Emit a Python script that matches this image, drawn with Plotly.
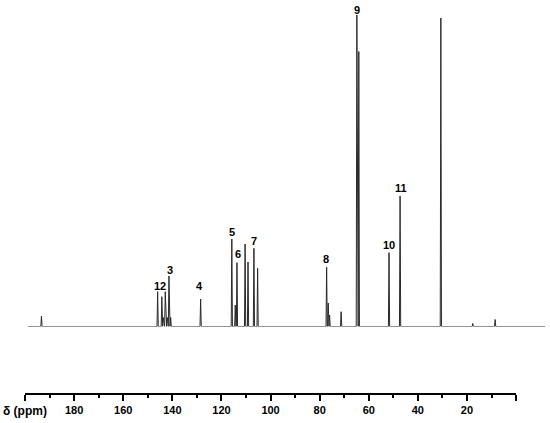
import plotly.graph_objects as go

# Peak positions (ppm, on the drawn axis scale) and intensities (arbitrary units)
peak_ppm = [193.3, 146.0, 144.3, 143.7, 142.9, 142.1, 141.4, 140.7, 128.5,
            115.8, 114.4, 113.7, 110.4, 109.2, 106.8, 105.3,
            77.2, 76.55, 76.0, 71.3, 64.9, 64.1, 51.8, 47.3, 30.7, 17.7, 8.6]
peak_int = [10.5, 34.8, 29.8, 9.0, 34.8, 9.0, 50.5, 9.0, 27.5,
            87.5, 21.5, 63.8, 82.5, 64.5, 78.2, 58.2,
            59.2, 23.5, 11.5, 14.8, 311.5, 275.0, 73.8, 130.5, 308.5, 3.0, 7.0]

spec_start = 198.8
spec_end = -11.7

# Peak labels
label_text = ["1", "2", "3", "4", "5", "6", "7", "8", "9", "10", "11"]
label_ppm = [146.4, 143.9, 141.0, 129.0, 115.6, 113.2, 106.8, 77.6, 64.8, 51.8, 47.0]
label_int = [40.5, 40.5, 56.5, 40.5, 94.8, 72.5, 85.8, 67.5, 316.5, 81.5, 138.5]

# Axis ticks
major_ticks = [200, 180, 160, 140, 120, 100, 80, 60, 40, 20, 0]
major_text = ["", "180", "160", "140", "120", "100", "80", "60", "40", "20", ""]

# Build stick-like spectrum from peak list
half_w = 0.25
xs = [spec_start]
ys = [0]
for p, h in sorted(zip(peak_ppm, peak_int), key=lambda t: -t[0]):
    xs += [p + half_w, p, p - half_w]
    ys += [0, h, 0]
xs.append(spec_end)
ys.append(0)

fig = go.Figure()
fig.add_trace(go.Scatter(x=xs, y=ys, mode="lines",
                         line=dict(color="#2a2a2a", width=1),
                         hoverinfo="skip", showlegend=False))
# dummy trace to create the ppm axis subplot
fig.add_trace(go.Scatter(x=[None], y=[None], xaxis="x2", yaxis="y2",
                         showlegend=False, hoverinfo="skip"))

W, H = 550, 423
ml, mr, mt, mb = 25, 5, 5, 30
plot_w = W - ml - mr
plot_h = H - mt - mb
baseline_px = 326.5
axis_px = H - mb

font_family = "Liberation Sans, Arial, sans-serif"

for t, p, v in zip(label_text, label_ppm, label_int):
    fig.add_annotation(x=p, y=v, xref="x", yref="y", text="<b>" + t + "</b>",
                       showarrow=False, xanchor="center", yanchor="middle",
                       font=dict(family=font_family, size=11, color="black"))

fig.add_annotation(xref="paper", yref="paper", x=-(ml - 1) / plot_w,
                   y=(axis_px - 411) / plot_h, text="<b>δ (ppm)</b>",
                   showarrow=False, xanchor="left", yanchor="middle",
                   font=dict(family=font_family, size=12, color="black"))

axis_dom_end = (516.1 - ml) / plot_w

fig.update_layout(
    width=W, height=H,
    margin=dict(l=ml, r=mr, t=mt, b=mb, autoexpand=False),
    paper_bgcolor="white", plot_bgcolor="white",
    showlegend=False,
    xaxis=dict(range=[200, spec_end], domain=[0, 1], visible=False, automargin=False),
    yaxis=dict(range=[0, baseline_px - mt], domain=[(axis_px - baseline_px) / plot_h, 1],
               visible=False, automargin=False),
    xaxis2=dict(range=[200, 0], domain=[0, axis_dom_end], anchor="y2",
                automargin=False,
                showline=True, linewidth=2, linecolor="black",
                showgrid=False, zeroline=False,
                tickmode="array", tickvals=major_ticks, ticktext=major_text,
                ticks="outside", ticklen=6, tickwidth=2, tickcolor="black",
                tickfont=dict(family=font_family, size=11, color="black", weight="bold"),
                minor=dict(dtick=10, tick0=0, ticks="outside", ticklen=3,
                           tickwidth=2, tickcolor="black", showgrid=False)),
    yaxis2=dict(range=[0, 1], domain=[0, 0.05], visible=False, automargin=False),
)

fig.write_html("out.html",
               config={"displayModeBar": False, "staticPlot": True},
               post_script="document.body.style.margin='0';document.body.style.overflow='hidden';")
